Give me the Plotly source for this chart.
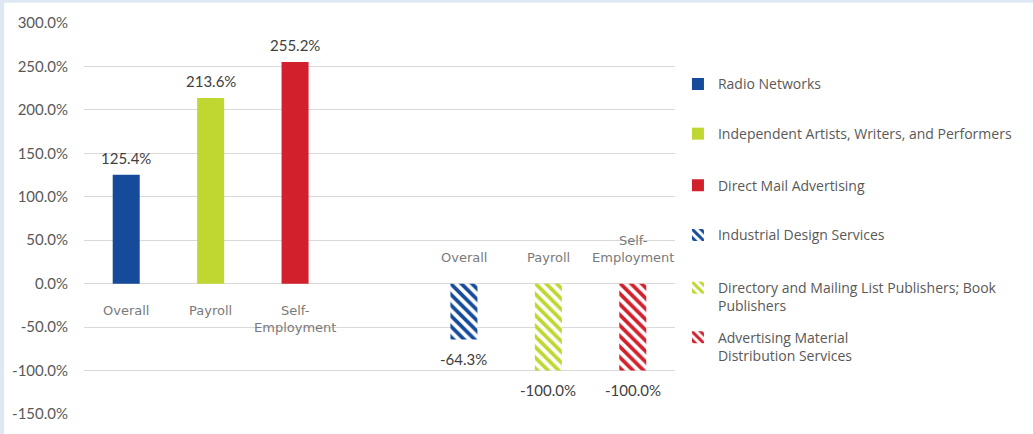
import plotly.graph_objects as go

# Categories shown under / above each group of bars
categories = ["Overall", "Payroll", "Self-Employment"]
category_labels = ["Overall", "Payroll", "Self-<br>Employment"]

# Fastest-growing industries (solid bars)
growth_names = [
    "Radio Networks",
    "Independent Artists, Writers, and Performers",
    "Direct Mail Advertising",
]
growth_values = [125.4, 213.6, 255.2]

# Fastest-declining industries (striped bars)
decline_names = [
    "Industrial Design Services",
    "Directory and Mailing List Publishers; Book<br>Publishers",
    "Advertising Material<br>Distribution Services",
]
decline_values = [-64.3, -100.0, -100.0]

colors = ["#154B9A", "#C0D731", "#D2212D"]

y_ticks = [-150, -100, -50, 0, 50, 100, 150, 200, 250, 300]

# slot positions: three bars, an empty slot, three bars
growth_x = [0, 1, 2]
decline_x = [4, 5, 6]

BAR_W = 0.32
TEXT_GRAY = "#595959"
LABEL_GRAY = "#7a7a7a"
FONT = "Open Sans"
NUM_FONT = "Lato"

fig = go.Figure()

legend_ids = ["legend", "legend2", "legend3", "legend4", "legend5", "legend6"]

for i, (name, val) in enumerate(zip(growth_names, growth_values)):
    fig.add_trace(go.Bar(
        x=[growth_x[i]], y=[val], name=name, width=BAR_W,
        marker=dict(color=colors[i], line=dict(width=0)),
        legend=legend_ids[i], hoverinfo="skip",
    ))

for i, (name, val) in enumerate(zip(decline_names, decline_values)):
    fig.add_trace(go.Bar(
        x=[decline_x[i]], y=[val], name=name, width=BAR_W,
        marker=dict(
            color=colors[i], line=dict(width=0),
            pattern=dict(shape="\\", fgcolor=colors[i], bgcolor="white",
                         size=7.5, solidity=0.5, fillmode="replace"),
        ),
        legend=legend_ids[3 + i], hoverinfo="skip",
    ))

annotations = []
# value labels
for xs, vals in ((growth_x, growth_values), (decline_x, decline_values)):
    for x, v in zip(xs, vals):
        annotations.append(dict(
            x=x, y=v, xref="x", yref="y", text=f"{v:.1f}%", showarrow=False,
            yanchor="bottom" if v >= 0 else "top", yshift=6 if v >= 0 else -8,
            font=dict(family=NUM_FONT, size=15, color="#404040"),
        ))
# category labels: below the zero line for the first group, above it for the second
for x, lab in zip(growth_x, category_labels):
    annotations.append(dict(
        x=x, y=0, xref="x", yref="y", text=lab, showarrow=False,
        yanchor="top", yshift=-17,
        font=dict(family="DejaVu Sans", size=13, color=LABEL_GRAY),
    ))
for x, lab in zip(decline_x, category_labels):
    annotations.append(dict(
        x=x, y=0, xref="x", yref="y", text=lab, showarrow=False,
        yanchor="bottom", yshift=17,
        font=dict(family="DejaVu Sans", size=13, color=LABEL_GRAY),
    ))

# one legend box per series so each entry sits in its own slot
legend_y = [0.843, 0.716, 0.584, 0.457, 0.299, 0.172]
legend_layout = {}
for lid, ly in zip(legend_ids, legend_y):
    legend_layout[lid] = dict(
        x=1.005, xanchor="left", y=ly, yanchor="middle",
        bgcolor="rgba(0,0,0,0)", valign="top",
        font=dict(family=FONT, size=14, color=TEXT_GRAY),
    )

fig.update_layout(
    width=1033, height=434,
    margin=dict(l=83, r=358, t=23, b=18),
    paper_bgcolor="white", plot_bgcolor="white",
    barmode="overlay",
    showlegend=True,
    annotations=annotations,
    xaxis=dict(range=[-0.5, 6.5], showticklabels=False, showgrid=False,
               zeroline=False, ticks="", fixedrange=True),
    yaxis=dict(range=[-150, 300], tickvals=y_ticks,
               ticktext=[f"{t:.1f}%" for t in y_ticks],
               showgrid=True, gridcolor="#d9d9d9", gridwidth=1,
               zeroline=True, zerolinecolor="#d9d9d9", zerolinewidth=1,
               ticks="", ticklabelstandoff=15,
               tickfont=dict(family=NUM_FONT, size=15, color=TEXT_GRAY)),
    shapes=[
        # thin window frame along the top and left edges
        dict(type="rect", xref="paper", yref="paper",
             x0=-0.15, x1=1.7, y0=1.0517, y1=1.07,
             fillcolor="#dfe8f2", line=dict(width=0), layer="above"),
        dict(type="rect", xref="paper", yref="paper",
             x0=-0.15, x1=-0.1351, y0=-0.1, y1=1.07,
             fillcolor="#dfe8f2", line=dict(width=0), layer="above"),
    ],
    **legend_layout,
)

fig.write_html("out.html")
